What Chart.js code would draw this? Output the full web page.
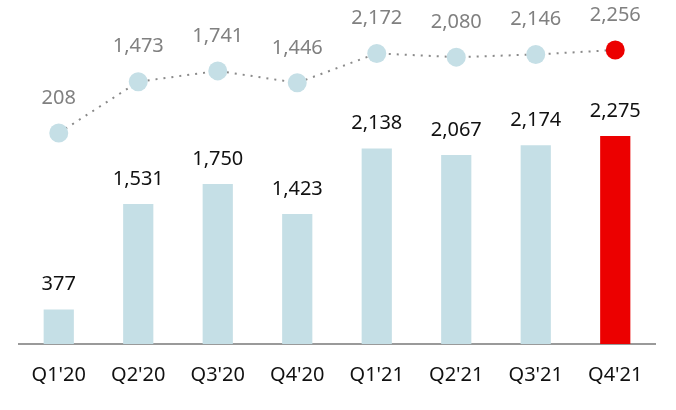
<!DOCTYPE html>
<html>
<head>
<meta charset="utf-8">
<script src="https://cdn.jsdelivr.net/npm/chart.js@4"></script>
<style>
  html, body { margin: 0; padding: 0; background: #fff; }
  #wrap { width: 676px; height: 410px; }
</style>
</head>
<body>
<div id="wrap"><canvas id="myChart" width="676" height="410"></canvas></div>
<script>
// quarter labels and the two series
const quarters = ["Q1'20", "Q2'20", "Q3'20", "Q4'20", "Q1'21", "Q2'21", "Q3'21", "Q4'21"];
const barValues = [377, 1531, 1750, 1423, 2138, 2067, 2174, 2275];
const lineValues = [208, 1473, 1741, 1446, 2172, 2080, 2146, 2256];

const lightBlue = '#c5dfe6';
const red = '#ec0000';
const barColors = barValues.map((v, i) => i === barValues.length - 1 ? red : lightBlue);
const pointColors = lineValues.map((v, i) => i === lineValues.length - 1 ? red : lightBlue);

const fontFamily = "'Noto Sans', sans-serif";

// writes the value above each bar and each point
const valueLabels = {
  id: 'valueLabels',
  afterDatasetsDraw(chart) {
    const ctx = chart.ctx;
    ctx.save();
    ctx.textAlign = 'center';
    ctx.textBaseline = 'middle';
    ctx.font = '20px ' + fontFamily;
    chart.data.datasets.forEach((ds, di) => {
      const meta = chart.getDatasetMeta(di);
      meta.data.forEach((el, i) => {
        const txt = ds.data[i].toLocaleString('en-US');
        if (ds.type === 'line') {
          ctx.fillStyle = '#808080';
          ctx.fillText(txt, el.x, el.y - 35);
        } else {
          ctx.fillStyle = '#111';
          ctx.fillText(txt, el.x, el.y - 25);
        }
      });
    });
    ctx.restore();
  }
};

const ctx = document.getElementById('myChart').getContext('2d');
const myChart = new Chart(ctx, {
  data: {
    labels: quarters,
    datasets: [
      {
        type: 'line',
        data: lineValues,
        yAxisID: 'yLine',
        borderColor: '#8a8a8a',
        borderWidth: 2,
        borderDash: [2, 6],
        pointRadius: 9.5,
        pointHoverRadius: 9.5,
        pointBorderWidth: 0,
        pointBackgroundColor: pointColors,
        pointBorderColor: pointColors,
        tension: 0,
        clip: false,
        order: 0,
      },
      {
        type: 'bar',
        data: barValues,
        yAxisID: 'yBar',
        backgroundColor: barColors,
        barPercentage: 0.38,
        categoryPercentage: 1,
        order: 1,
      },
    ],
  },
  options: {
    responsive: false,
    animation: false,
    layout: { autoPadding: false, padding: { left: 19, right: 21, top: 0, bottom: 0 } },
    plugins: { legend: { display: false }, tooltip: { enabled: false } },
    scales: {
      x: {
        grid: { display: false, drawTicks: false },
        border: { display: true, color: '#9a9a9a', width: 2 },
        ticks: { color: '#111', font: { size: 20, family: fontFamily }, padding: 19 },
        afterFit(scale) { scale.height = 66; },
      },
      yBar: {
        display: false,
        min: 0,
        max: 3764,
      },
      yLine: {
        display: false,
        min: -5002,
        max: 3491,
      },
    },
  },
  plugins: [valueLabels],
});
</script>
</body>
</html>
